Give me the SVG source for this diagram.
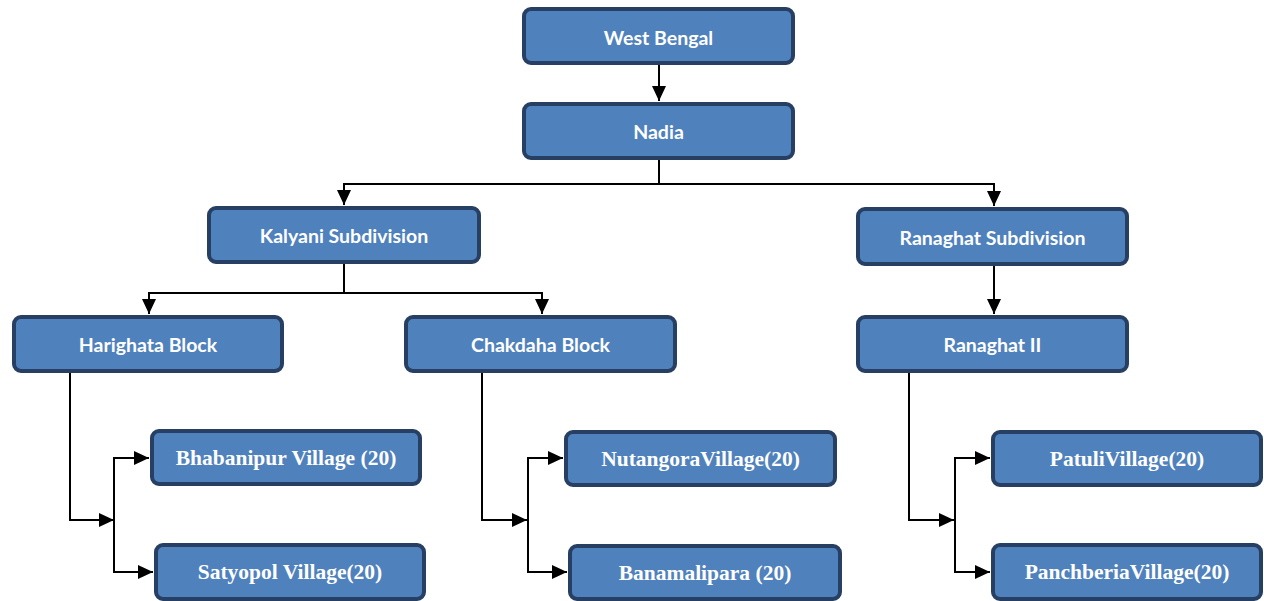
<svg xmlns="http://www.w3.org/2000/svg" width="1264" height="601" viewBox="0 0 1264 601">
<style>
.box{fill:#4F81BD;stroke:#263F62;stroke-width:4}
.t1{font-family:Lato,"Open Sans",sans-serif;font-weight:bold;font-size:19.5px;fill:#fff;text-anchor:middle;dominant-baseline:central}
.t2{font-family:"Liberation Serif",serif;font-weight:bold;font-size:21.5px;fill:#fff;text-anchor:middle;dominant-baseline:central}
.c{fill:none;stroke:#000;stroke-width:2}
</style>
<defs>
<marker id="ah" markerUnits="userSpaceOnUse" markerWidth="16" markerHeight="16" viewBox="0 0 16 16" refX="15" refY="8" orient="auto">
<path d="M0,1 L15,8 L0,15 Z" fill="#000"/>
</marker>
</defs>
<rect width="1264" height="601" fill="#fff"/>
<g id="connectors">
<path class="c" d="M659,65 V101" marker-end="url(#ah)"/>
<path class="c" d="M659,160 V184"/>
<path class="c" d="M659,184 H344 V205" marker-end="url(#ah)"/>
<path class="c" d="M659,184 H994 V206" marker-end="url(#ah)"/>
<path class="c" d="M344,264 V293"/>
<path class="c" d="M344,293 H149 V314" marker-end="url(#ah)"/>
<path class="c" d="M344,293 H542 V314" marker-end="url(#ah)"/>
<path class="c" d="M994,266 V314" marker-end="url(#ah)"/>
<path class="c" d="M70,373 V520 H114" marker-end="url(#ah)"/>
<path class="c" d="M114,520 V458 H149" marker-end="url(#ah)"/>
<path class="c" d="M114,520 V572 H153" marker-end="url(#ah)"/>
<path class="c" d="M482,373 V520 H527" marker-end="url(#ah)"/>
<path class="c" d="M528,520 V458 H563" marker-end="url(#ah)"/>
<path class="c" d="M528,520 V572 H567" marker-end="url(#ah)"/>
<path class="c" d="M909,373 V520 H954" marker-end="url(#ah)"/>
<path class="c" d="M955,520 V458 H990" marker-end="url(#ah)"/>
<path class="c" d="M955,520 V572 H990" marker-end="url(#ah)"/>
</g>
<g id="west-bengal"><rect class="box" x="524" y="9" width="269" height="54" rx="7"/><text class="t1" x="658.5" y="37">West Bengal</text></g>
<g id="nadia"><rect class="box" x="524" y="104" width="269" height="54" rx="7"/><text class="t1" x="658.5" y="131">Nadia</text></g>
<g id="kalyani"><rect class="box" x="209" y="208" width="270" height="54" rx="7"/><text class="t1" x="344" y="235">Kalyani Subdivision</text></g>
<g id="ranaghat-sub"><rect class="box" x="858" y="209" width="269" height="55" rx="7"/><text class="t1" x="992.5" y="237">Ranaghat Subdivision</text></g>
<g id="harighata"><rect class="box" x="14" y="317" width="268" height="54" rx="7"/><text class="t1" x="148" y="344">Harighata Block</text></g>
<g id="chakdaha"><rect class="box" x="406" y="317" width="269" height="54" rx="7"/><text class="t1" x="540.5" y="344">Chakdaha Block</text></g>
<g id="ranaghat-ii"><rect class="box" x="858" y="317" width="269" height="54" rx="7"/><text class="t1" x="992.5" y="344">Ranaghat II</text></g>
<g id="bhabanipur"><rect class="box" x="152" y="431" width="268" height="53" rx="7"/><text class="t2" x="286" y="458">Bhabanipur Village (20)</text></g>
<g id="satyopol"><rect class="box" x="156" y="545" width="268" height="54" rx="7"/><text class="t2" x="290" y="572">Satyopol Village(20)</text></g>
<g id="nutangora"><rect class="box" x="566" y="432" width="269" height="53" rx="7"/><text class="t2" x="700.5" y="459">NutangoraVillage(20)</text></g>
<g id="banamalipara"><rect class="box" x="570" y="546" width="270" height="53" rx="7"/><text class="t2" x="705" y="573">Banamalipara (20)</text></g>
<g id="patuli"><rect class="box" x="993" y="432" width="268" height="53" rx="7"/><text class="t2" x="1127" y="459">PatuliVillage(20)</text></g>
<g id="panchberia"><rect class="box" x="993" y="545" width="268" height="54" rx="7"/><text class="t2" x="1127" y="572">PanchberiaVillage(20)</text></g>
</svg>
